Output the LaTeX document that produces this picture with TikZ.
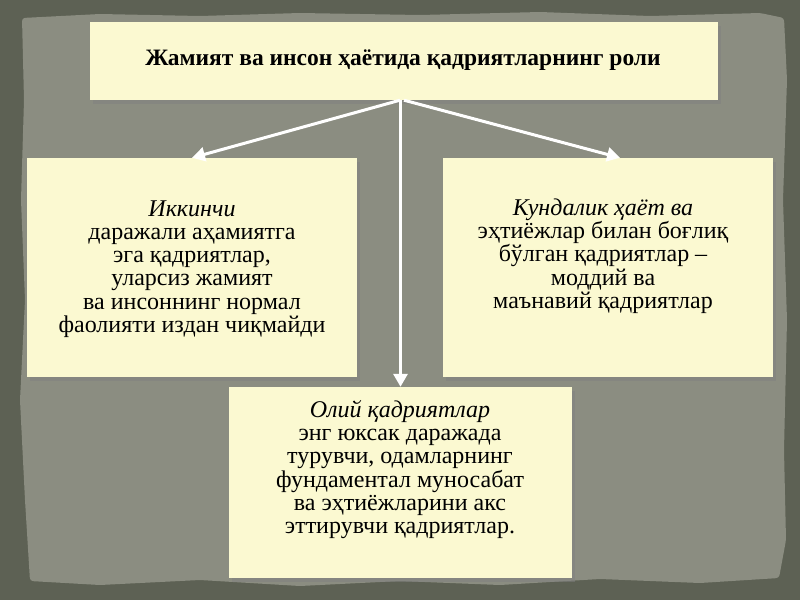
\documentclass[tikz,border=0pt]{standalone}
\usepackage{fontspec}
\setmainfont{Liberation Serif}
\usetikzlibrary{arrows.meta,shadows}

\definecolor{frame_dark}{HTML}{5D6154}
\definecolor{paper_grey}{HTML}{8B8D81}
\definecolor{card_yellow}{HTML}{FBF9D1}

\begin{document}
\begin{tikzpicture}[x=1pt,y=-1pt]
\useasboundingbox (0,0) rectangle (800,600);
\fill[frame_dark] (0,0) rectangle (800,600);
\fill[paper_grey,rounded corners=3pt] (22,18) -- (100,14) -- (200,16) -- (300,13) -- (420,15) -- (540,12) -- (650,16) -- (760,13) -- (784,18)
    -- (787,80) -- (783,200) -- (787,320) -- (784,450) -- (786,540) -- (779,578)
    -- (700,583) -- (600,579) -- (500,585) -- (400,581) -- (300,586) -- (200,580) -- (100,585) -- (30,581)
    -- (25,500) -- (20,400) -- (25,300) -- (21,200) -- (24,100) -- cycle;

\begin{scope}[every node/.style={rectangle,fill=card_yellow,inner sep=0pt,
              drop shadow={shadow xshift=3pt,shadow yshift=-4pt,opacity=0.5}}]
    \node[minimum width=628pt,minimum height=78pt] (title_box) at (404,61) {};
    \node[minimum width=330pt,minimum height=219pt] (second_box) at (192,267.5) {};
    \node[minimum width=330pt,minimum height=219pt] (material_box) at (608,267.5) {};
    \node[minimum width=343pt,minimum height=191pt] (higher_box) at (400.5,482.5) {};
\end{scope}

\begin{scope}[every node/.style={align=center,font=\fontsize{24}{23.3}\selectfont}]
    \node[font=\bfseries\fontsize{23.5}{23}\selectfont] (title) at (403,60) {Жамият ва инсон ҳаётида қадриятларнинг роли};
    \node (second_text) at (192,269) {\itshape Иккинчи\\даражали аҳамиятга\\эга қадриятлар,\\\upshape уларсиз жамият\\ва инсоннинг нормал\\фаолияти издан чиқмайди};
    \node (material_text) at (603,256) {\itshape Кундалик ҳаёт ва\\эҳтиёжлар билан боғлиқ\\бўлган қадриятлар --\\\upshape моддий ва\\маънавий қадриятлар};
    \node (higher_text) at (400,469.5) {\itshape Олий қадриятлар\\\upshape энг юксак даражада\\турувчи, одамларнинг\\фундаментал муносабат\\ва эҳтиёжларини акс\\эттирувчи қадриятлар.};
\end{scope}

\begin{scope}[>={Triangle[white,length=13pt,width=14pt]},
              every edge/.style={draw=white,line width=3pt}]
    \path [->] ([xshift=-4pt]title_box.south) edge (second_box.north);
    \path [->] (title_box.south) edge ([xshift=12pt]material_box.north);
    \path [->] (higher_box.north |- title_box.south) edge (higher_box.north);
\end{scope}
\end{tikzpicture}
\end{document}
